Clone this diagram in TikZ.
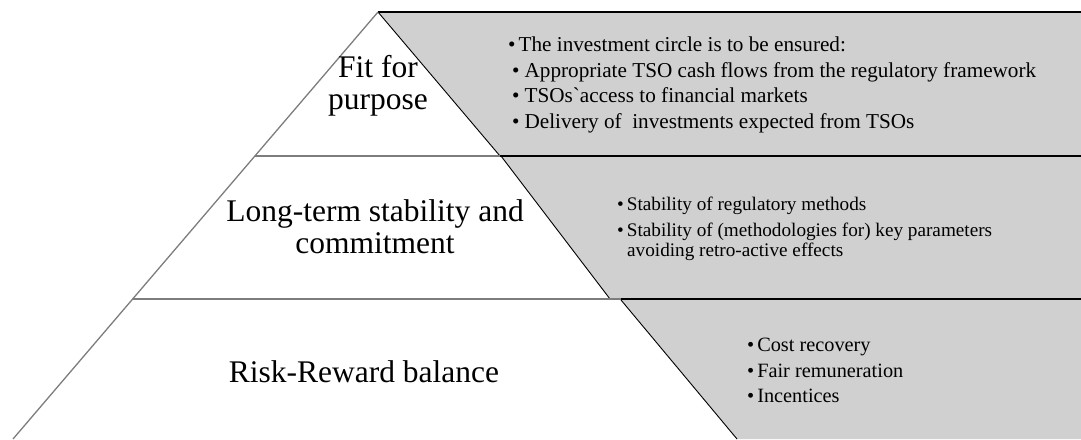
\documentclass[tikz,border=0pt]{standalone}
\usepackage{fontspec}
\setmainfont{Liberation Serif}
\usepackage{tikz}

\definecolor{bandgray}{RGB}{208,208,208}
\definecolor{pyrgray}{RGB}{125,125,125}

\tikzset{
  band/.style={fill=bandgray,draw=none},
  bandedge/.style={line width=0.9pt,black},
  bandrule/.style={line width=2.2pt,black},
  pyrline/.style={line width=1.3pt,pyrgray},
  levellabel/.style={font=\fontsize{31.5}{32}\selectfont,align=center,inner sep=0pt},
  bullets/.style={font=\fontsize{20.3}{25.5}\selectfont,align=left,inner sep=0pt,anchor=north west},
}

\begin{document}
\begin{tikzpicture}[line cap=butt,line join=round,x=1pt,y=-1pt]
\useasboundingbox (0,0) rectangle (1081,439);

% grey bands on the right
\fill[band] (378,12) -- (1081,12) -- (1081,156) -- (500,156) -- cycle;
\fill[band] (501,156) -- (1081,156) -- (1081,299) -- (610,299) -- cycle;
\fill[band] (621,300) -- (1081,300) -- (1081,439) -- (737,439) -- cycle;
\draw[bandedge] (378,12) -- (500,156);
\draw[bandedge] (501,156) -- (610,299);
\draw[bandedge] (621,300) -- (737,439);
\draw[bandrule] (378,12) -- (1081,12);
\draw[bandrule] (500,156) -- (1081,156);
\draw[bandrule] (610,299) -- (1081,299);

% pyramid
\draw[pyrline] (378,12) -- (13,439);
\draw[pyrline] (255,156) -- (500,156);
\draw[pyrline] (133,299) -- (621,299);

\node[levellabel] (fit) at (378,86) {Fit for\\purpose};
\node[levellabel] (longterm) at (375,227) {Long-term stability and\\commitment};
\node[levellabel,anchor=base] (risk) at (364,382) {Risk-Reward balance};

\node[bullets,font=\fontsize{21.2}{25.5}\selectfont] (fitlist) at (508,37) {\textbullet\hspace{3pt}The investment circle is to be ensured:\\
  \hspace{4pt}\textbullet\hspace{5pt}Appropriate TSO cash flows from the regulatory framework\\
  \hspace{4pt}\textbullet\hspace{5pt}TSOs\textasciigrave access to financial markets\\
  \hspace{4pt}\textbullet\hspace{5pt}Delivery of\ \ investments expected from TSOs};
\node[bullets,font=\fontsize{19.2}{20}\selectfont] (longlist) at (617,197) {\textbullet\hspace{3pt}Stability of regulatory methods\\[6pt]
  \textbullet\hspace{3pt}Stability of (methodologies for) key parameters\\
  \hspace{10pt}avoiding retro-active effects};
\node[bullets] (risklist) at (747,338) {\textbullet\hspace{3pt}Cost recovery\\
  \textbullet\hspace{3pt}Fair remuneration\\
  \textbullet\hspace{3pt}Incentices};
\end{tikzpicture}
\end{document}
